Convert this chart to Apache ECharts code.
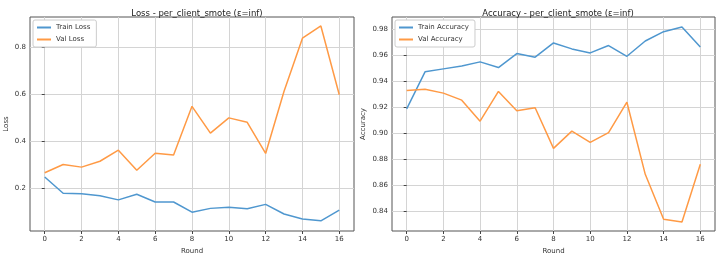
<!DOCTYPE html>
<html>
<head>
<meta charset="utf-8">
<script src="https://cdn.jsdelivr.net/npm/echarts@6/dist/echarts.min.js"></script>
<style>
  html, body { margin: 0; padding: 0; background: #fff; }
  #chart { width: 724px; height: 260px; }
</style>
</head>
<body>
<div id="chart"></div>
<script>
const rounds = [0, 1, 2, 3, 4, 5, 6, 7, 8, 9, 10, 11, 12, 13, 14, 15, 16];
const trainLoss = [0.248, 0.179, 0.177, 0.169, 0.151, 0.175, 0.142, 0.142, 0.099, 0.115, 0.120, 0.113, 0.132, 0.091, 0.070, 0.062, 0.108];
const valLoss = [0.266, 0.301, 0.290, 0.315, 0.362, 0.277, 0.349, 0.341, 0.548, 0.434, 0.499, 0.480, 0.348, 0.612, 0.837, 0.889, 0.597];
const trainAcc = [0.9187, 0.9472, 0.9495, 0.9518, 0.9549, 0.9505, 0.9613, 0.9585, 0.9695, 0.9649, 0.9618, 0.9675, 0.9592, 0.9710, 0.9782, 0.9818, 0.9664];
const valAcc = [0.9328, 0.9338, 0.9308, 0.9254, 0.9092, 0.9321, 0.9172, 0.9195, 0.8882, 0.9015, 0.8928, 0.9003, 0.9238, 0.8682, 0.8336, 0.8315, 0.8759];
const xTicks = [0, 2, 4, 6, 8, 10, 12, 14, 16];
const lossTicks = [0.2, 0.4, 0.6, 0.8];
const accTicks = [0.84, 0.86, 0.88, 0.90, 0.92, 0.94, 0.96, 0.98];

const BLUE = '#4f97cf';
const ORANGE = '#ff9a45';
const FONT = 'DejaVu Sans';

const pairs = (ys) => rounds.map((r, i) => [r, ys[i]]);

function xAxis(gridIndex) {
  return {
    type: 'value', gridIndex, min: -0.8, max: 16.8,
    name: 'Round', nameLocation: 'middle', nameGap: 17,
    nameTextStyle: { fontFamily: FONT, fontSize: 7, color: '#333' },
    axisLine: { show: false },
    axisTick: { show: true, length: 3, customValues: xTicks, lineStyle: { color: '#444' } },
    axisLabel: { customValues: xTicks, fontFamily: FONT, fontSize: 7, color: '#333', margin: 5 },
    splitLine: { show: true, lineStyle: { color: '#d4d4d4', width: 1 } }
  };
}

function yAxis(gridIndex, name, min, max, ticks, digits, gap) {
  return {
    type: 'value', gridIndex, min, max,
    name, nameLocation: 'middle', nameGap: gap,
    nameTextStyle: { fontFamily: FONT, fontSize: 7, color: '#333' },
    axisLine: { show: false },
    axisTick: { show: true, length: 3, customValues: ticks, lineStyle: { color: '#444' } },
    axisLabel: {
      customValues: ticks, fontFamily: FONT, fontSize: 7, color: '#333', margin: 4,
      formatter: (v) => v.toFixed(digits)
    },
    splitLine: { show: true, lineStyle: { color: '#d4d4d4', width: 1 } }
  };
}

function line(name, data, color, idx) {
  return {
    name, type: 'line', xAxisIndex: idx, yAxisIndex: idx,
    data: pairs(data), showSymbol: false, symbol: 'none',
    lineStyle: { color, width: 1.5 }, itemStyle: { color }
  };
}

const legendBase = {
  orient: 'vertical', itemWidth: 14, itemHeight: 2, itemGap: 5, icon: 'rect',
  padding: [4, 6, 4, 4], backgroundColor: '#fff', borderColor: '#ccc', borderWidth: 1, borderRadius: 2,
  textStyle: { fontFamily: FONT, fontSize: 7, color: '#333' }
};

const chart = echarts.init(document.getElementById('chart'), null, { renderer: 'canvas' });
chart.setOption({
  animation: false,
  backgroundColor: '#fff',
  title: [
    { text: 'Loss - per_client_smote (ε=inf)', left: 192, top: 4, textAlign: 'center',
      textStyle: { fontFamily: FONT, fontSize: 8.5, fontWeight: 'normal', color: '#222' } },
    { text: 'Accuracy - per_client_smote (ε=inf)', left: 553, top: 4, textAlign: 'center',
      textStyle: { fontFamily: FONT, fontSize: 8.5, fontWeight: 'normal', color: '#222' } }
  ],
  legend: [
    Object.assign({}, legendBase, { left: 33, top: 20, data: ['Train Loss', 'Val Loss'] }),
    Object.assign({}, legendBase, { left: 395, top: 20, data: ['Train Accuracy', 'Val Accuracy'] })
  ],
  grid: [
    { left: 30, top: 17, width: 324, height: 214, show: true, borderColor: '#555', borderWidth: 1 },
    { left: 392, top: 17, width: 323, height: 214, show: true, borderColor: '#555', borderWidth: 1 }
  ],
  xAxis: [xAxis(0), xAxis(1)],
  yAxis: [
    yAxis(0, 'Loss', 0.019, 0.927, lossTicks, 1, 20),
    yAxis(1, 'Accuracy', 0.8245, 0.9895, accTicks, 2, 25)
  ],
  series: [
    line('Train Loss', trainLoss, BLUE, 0),
    line('Val Loss', valLoss, ORANGE, 0),
    line('Train Accuracy', trainAcc, BLUE, 1),
    line('Val Accuracy', valAcc, ORANGE, 1)
  ]
});
</script>
</body>
</html>
